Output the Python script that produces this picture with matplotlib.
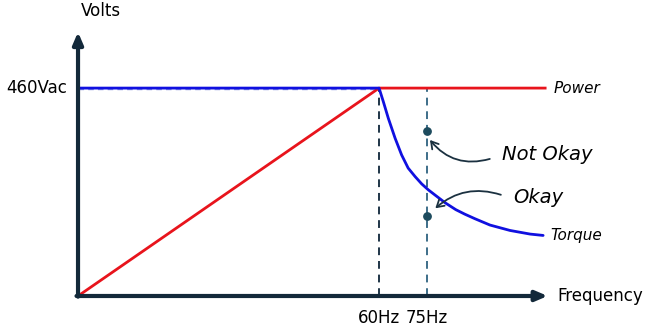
import numpy as np
import matplotlib.pyplot as plt

# Positions along the frequency axis (60Hz at 60, the 75Hz mark is drawn closer in)
freq_ticks = [60, 69.6]
freq_labels = ['60Hz', '75Hz']
v_rated = 460  # Vac

# Power (V/f) line: ramps up to rated voltage at 60Hz, then flat
power_x = [0, 60, 93.1]
power_y = [0, 460, 460]

# Torque line: flat up to 60Hz, then falls off
torque_x = [0, 60.0, 60.85, 61.85, 63.2, 64.5, 65.8, 67.2, 68.5, 69.8, 71.2,
            73.2, 75.3, 77.1, 79.1, 82.1, 86.1, 90.1, 92.7]
torque_y = [460, 460, 430, 393, 349, 312, 283, 264, 248, 235, 223,
            206, 191, 181, 171, 157, 145, 137, 134]

# Operating points at 75Hz
pt_x = [69.6, 69.6]
pt_y = [365, 177]

fig = plt.figure(figsize=(6.49, 3.27), dpi=100)
ax = fig.add_axes([0, 0, 1, 1])
ax.set_xlim(-15.55, 113.8)
ax.set_ylim(-68.6, 654.9)
ax.axis('off')

axis_col = '#13293a'
# axes with arrow heads
ax.annotate('', xy=(0, 584), xytext=(0, -1.5),
            arrowprops=dict(arrowstyle='-|>,head_width=0.3,head_length=0.7',
                            lw=3, color=axis_col, shrinkA=0, shrinkB=0))
ax.annotate('', xy=(93.6, 0), xytext=(-0.3, 0),
            arrowprops=dict(arrowstyle='-|>,head_width=0.3,head_length=0.7',
                            lw=3, color=axis_col, shrinkA=0, shrinkB=0))

# dashed markers for 60Hz and 75Hz
ax.plot([60, 60], [0, 460], ls=(0, (4, 3)), lw=1.4, color='#1f3548')
ax.plot([69.6, 69.6], [0, 460], ls=(0, (4, 3)), lw=1.4, color='#3d6e89')
ax.plot([0, 60], [457, 457], ls=(0, (4, 3)), lw=1.0, color='#8a98e0')

ax.plot(power_x, power_y, color='#e8141c', lw=2)
ax.plot(torque_x, torque_y, color='#1010e0', lw=2, solid_capstyle='round',
        solid_joinstyle='round')

ax.scatter(pt_x, pt_y, s=28, color='#1d4b5e', zorder=5)

# labels
ax.text(4.6, 630, 'Volts', fontsize=12, ha='center', va='center')
ax.text(-2.2, v_rated, '460Vac', fontsize=12, ha='right', va='center')
ax.text(95.5, 0, 'Frequency', fontsize=12, ha='left', va='center')
for x, lab in zip(freq_ticks, freq_labels):
    ax.text(x, -48, lab, fontsize=12, ha='center', va='center')
ax.text(94.8, 460, 'Power', fontsize=11, style='italic', ha='left', va='center')
ax.text(94.1, 133, 'Torque', fontsize=11, style='italic', ha='left', va='center')

ax.text(84.6, 312, 'Not Okay', fontsize=14, style='italic', ha='left', va='center')
ax.text(86.8, 219, 'Okay', fontsize=14, style='italic', ha='left', va='center')

arrow_col = '#1b3140'
ax.annotate('', xy=(69.8, 350), xytext=(82.6, 305),
            arrowprops=dict(arrowstyle='->,head_width=0.3,head_length=0.5', lw=1.3,
                            color=arrow_col, connectionstyle='arc3,rad=-0.35'))
ax.annotate('', xy=(70.8, 190), xytext=(84.8, 222),
            arrowprops=dict(arrowstyle='->,head_width=0.3,head_length=0.5', lw=1.3,
                            color=arrow_col, connectionstyle='arc3,rad=0.3'))

plt.savefig('out.png', dpi=100)
